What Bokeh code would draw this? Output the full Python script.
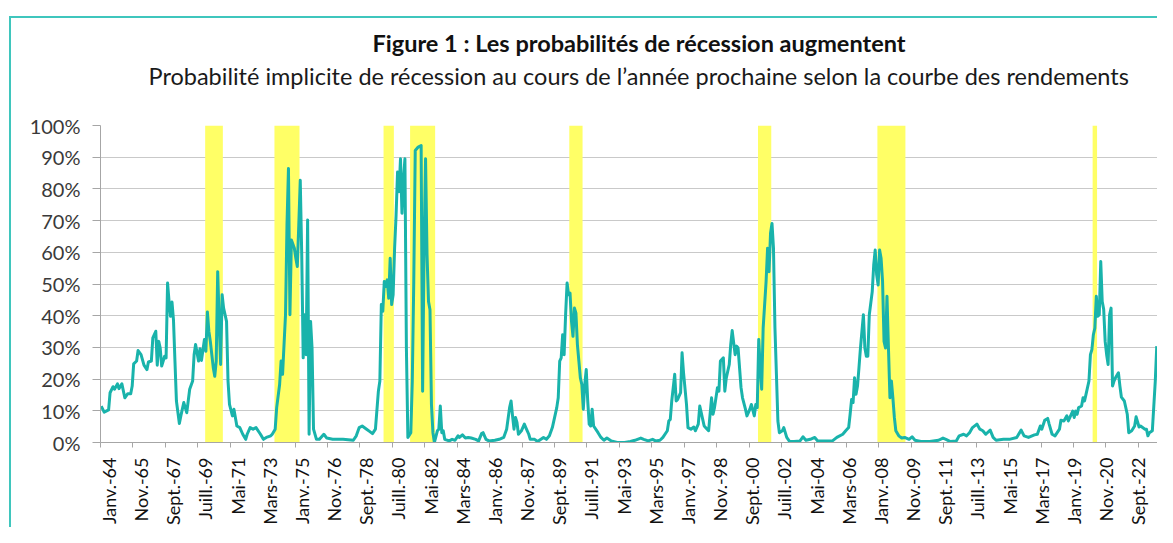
import math
from bokeh.plotting import figure
from bokeh.models import (Range1d, FixedTicker, LinearAxis, Title, InlineStyleSheet,
                          CustomJSTickFormatter, PrintfTickFormatter, ColumnDataSource)
from bokeh.embed import file_html
from bokeh.resources import INLINE

# ---------------- data ----------------
dates = [
    "1964-01", "1964-03", "1964-06", "1964-07", "1964-09", "1964-10", "1964-12",
    "1965-01", "1965-03", "1965-05", "1965-07", "1965-09", "1965-10", "1965-11",
    "1966-01", "1966-02", "1966-04", "1966-06", "1966-08", "1966-09", "1966-11", "1966-12",
    "1967-02", "1967-03", "1967-04", "1967-05", "1967-06", "1967-08", "1967-09", "1967-10",
    "1967-11", "1967-12", "1968-01", "1968-02", "1968-03", "1968-04", "1968-06", "1968-07",
    "1968-09", "1968-11", "1969-01", "1969-03", "1969-04", "1969-05", "1969-07", "1969-08",
    "1969-09", "1969-11", "1969-12", "1970-01", "1970-02", "1970-03", "1970-05", "1970-06",
    "1970-07", "1970-08", "1970-09", "1970-10", "1970-11", "1970-12", "1971-02", "1971-03",
    "1971-04", "1971-06", "1971-07", "1971-09", "1971-11", "1972-01", "1972-03", "1972-04",
    "1972-06", "1972-08", "1972-10", "1973-01", "1973-03", "1973-05", "1973-08", "1973-09",
    "1973-11", "1973-12", "1974-02", "1974-03", "1974-04", "1974-06", "1974-07", "1974-08",
    "1974-09", "1974-10", "1974-12", "1975-01", "1975-02", "1975-03", "1975-04", "1975-05",
    "1975-06", "1975-07", "1975-08", "1975-09", "1975-10", "1975-11", "1975-12", "1976-01",
    "1976-03", "1976-05", "1976-08", "1976-10", "1977-02", "1977-09", "1978-04", "1978-06",
    "1978-08", "1978-10", "1979-01", "1979-03", "1979-05", "1979-07", "1979-09", "1979-10",
    "1979-11", "1979-12", "1980-01", "1980-02", "1980-03", "1980-04", "1980-05", "1980-06",
    "1980-07", "1980-08", "1980-09", "1980-10", "1980-11", "1980-12", "1981-01", "1981-02",
    "1981-03", "1981-04", "1981-05", "1981-07", "1981-08", "1981-09", "1981-10", "1981-12",
    "1982-02", "1982-03", "1982-04", "1982-05", "1982-06", "1982-07", "1982-08", "1982-09",
    "1982-10", "1982-11", "1983-01", "1983-02", "1983-03", "1983-04", "1983-05", "1983-06",
    "1983-09", "1983-11", "1984-01", "1984-03", "1984-04", "1984-06", "1984-08", "1984-10",
    "1984-12", "1985-03", "1985-05", "1985-07", "1985-08", "1985-10", "1985-12", "1986-04",
    "1986-07", "1986-10", "1986-12", "1987-02", "1987-03", "1987-04", "1987-05", "1987-06",
    "1987-07", "1987-08", "1987-10", "1987-12", "1988-01", "1988-03", "1988-04", "1988-07",
    "1988-09", "1989-01", "1989-03", "1989-05", "1989-07", "1989-10", "1989-11", "1989-12",
    "1990-01", "1990-02", "1990-03", "1990-04", "1990-05", "1990-06", "1990-07", "1990-08",
    "1990-09", "1990-10", "1990-11", "1990-12", "1991-01", "1991-02", "1991-03", "1991-04",
    "1991-05", "1991-06", "1991-07", "1991-08", "1991-09", "1991-10", "1991-11", "1992-02",
    "1992-04", "1992-06", "1992-08", "1992-11", "1993-03", "1993-08", "1993-12", "1994-03",
    "1994-07", "1994-09", "1994-12", "1995-03", "1995-05", "1995-08", "1995-10", "1996-01",
    "1996-02", "1996-03", "1996-04", "1996-06", "1996-07", "1996-08", "1996-10", "1996-11",
    "1996-12", "1997-02", "1997-03", "1997-05", "1997-07", "1997-08", "1997-10", "1997-11",
    "1998-01", "1998-02", "1998-04", "1998-05", "1998-07", "1998-08", "1998-09", "1998-11",
    "1998-12", "1999-01", "1999-03", "1999-04", "1999-05", "1999-07", "1999-08", "1999-09",
    "1999-11", "1999-12", "2000-01", "2000-03", "2000-04", "2000-06", "2000-07", "2000-09",
    "2000-10", "2000-12", "2001-01", "2001-02", "2001-03", "2001-04", "2001-05", "2001-06",
    "2001-08", "2001-09", "2001-10", "2001-11", "2001-12", "2002-01", "2002-02", "2002-03",
    "2002-04", "2002-05", "2002-07", "2002-08", "2002-10", "2002-12", "2003-03", "2003-07",
    "2003-09", "2003-11", "2004-02", "2004-05", "2004-07", "2004-12", "2005-05", "2005-08",
    "2005-12", "2006-02", "2006-04", "2006-05", "2006-06", "2006-07", "2006-08", "2006-09",
    "2006-10", "2006-11", "2006-12", "2007-02", "2007-03", "2007-04", "2007-05", "2007-06",
    "2007-08", "2007-09", "2007-10", "2007-11", "2007-12", "2008-01", "2008-02", "2008-03",
    "2008-04", "2008-05", "2008-06", "2008-07", "2008-08", "2008-09", "2008-10", "2008-11",
    "2008-12", "2009-02", "2009-04", "2009-06", "2009-09", "2009-11", "2010-01", "2010-05",
    "2010-11", "2011-05", "2011-08", "2011-10", "2012-01", "2012-05", "2012-07", "2012-10",
    "2012-12", "2013-02", "2013-04", "2013-07", "2013-09", "2013-11", "2014-01", "2014-04",
    "2014-06", "2014-08", "2015-01", "2015-05", "2015-10", "2016-01", "2016-03", "2016-06",
    "2016-10", "2016-12", "2017-02", "2017-03", "2017-05", "2017-07", "2017-08", "2017-10",
    "2017-12", "2018-03", "2018-04", "2018-06", "2018-08", "2018-09", "2018-11", "2018-12",
    "2019-01", "2019-02", "2019-03", "2019-04", "2019-06", "2019-07", "2019-08", "2019-09",
    "2019-11", "2019-12", "2020-01", "2020-02", "2020-03", "2020-04", "2020-05", "2020-06",
    "2020-07", "2020-08", "2020-09", "2020-10", "2020-11", "2020-12", "2021-01", "2021-02",
    "2021-03", "2021-04", "2021-05", "2021-07", "2021-08", "2021-09", "2021-11", "2022-01",
    "2022-02", "2022-04", "2022-06", "2022-07", "2022-09", "2022-10", "2023-01", "2023-02",
    "2023-03", "2023-04", "2023-06", "2023-08", "2023-09",
]

probability = [
    11.5, 9.6, 10.3, 15.7, 17.6, 16.8, 18.5,
    17.0, 18.5, 14.1, 15.4, 15.4, 17.8, 24.8,
    25.7, 29.0, 27.7, 24.4, 23.0, 25.4, 25.7, 33.0,
    35.1, 24.4, 31.9, 29.8, 24.1, 27.2, 26.7, 50.3,
    44.5, 39.8, 44.3, 38.7, 25.7, 13.1, 6.0, 8.4,
    12.6, 9.4, 16.8, 19.4, 27.7, 30.9, 25.7, 29.6,
    25.9, 32.5, 28.8, 41.2, 35.1, 31.9, 23.6, 20.9,
    25.7, 53.9, 38.2, 24.6, 46.6, 42.4, 38.2, 19.4,
    12.0, 8.4, 10.5, 5.2, 4.7, 2.6, 1.0, 2.6,
    4.7, 4.2, 4.7, 2.6, 1.0, 1.6, 2.1, 2.6,
    4.2, 11.0, 18.3, 25.7, 21.5, 40.3, 68.6, 86.4,
    40.3, 63.9, 61.3, 58.1, 55.5, 68.6, 82.7, 59.2,
    26.7, 40.3, 27.7, 70.2, 2.6, 38.2, 29.8, 4.2,
    1.0, 1.0, 2.6, 1.4, 1.0, 1.0, 0.7, 2.1,
    4.7, 5.2, 4.2, 3.5, 2.8, 4.2, 16.2, 19.4,
    43.5, 41.4, 50.8, 49.2, 51.3, 45.5, 58.1, 43.5,
    46.6, 61.3, 71.7, 85.3, 79.1, 89.5, 72.3, 82.7,
    89.5, 29.8, 1.6, 3.1, 19.4, 50.8, 92.1, 93.2,
    93.7, 16.2, 61.3, 89.5, 59.2, 44.5, 41.9, 12.0,
    3.1, 0.0, 3.7, 4.2, 11.5, 3.1, 3.7, 1.0,
    0.5, 1.0, 0.7, 2.1, 1.6, 2.4, 1.4, 1.6,
    1.4, 1.0, 0.5, 2.8, 3.1, 1.0, 0.5, 0.7,
    1.0, 1.6, 4.2, 11.0, 13.1, 8.4, 4.2, 7.9,
    6.3, 2.6, 3.7, 5.8, 4.7, 2.6, 1.0, 1.0,
    0.3, 1.6, 1.0, 2.1, 4.7, 11.0, 14.1, 25.7,
    26.7, 34.0, 27.7, 40.3, 50.3, 46.6, 47.1, 38.2,
    33.5, 42.4, 40.8, 30.9, 25.7, 20.4, 18.3, 10.5,
    18.3, 23.0, 13.1, 5.8, 5.2, 10.5, 5.2, 3.1,
    1.6, 0.7, 1.4, 0.5, 0.0, 0.0, 0.3, 0.7,
    1.4, 1.0, 0.5, 1.0, 0.5, 0.7, 1.6, 3.7,
    6.8, 7.3, 13.1, 21.5, 13.1, 13.6, 15.7, 28.3,
    22.0, 12.0, 4.7, 4.2, 4.9, 3.7, 5.8, 11.5,
    7.3, 5.2, 4.2, 3.7, 14.1, 8.9, 11.0, 17.3,
    16.2, 25.7, 26.7, 16.2, 20.4, 24.6, 30.9, 35.3,
    27.7, 30.4, 29.8, 17.3, 14.1, 10.5, 8.4, 10.5,
    12.0, 8.4, 12.0, 11.0, 32.5, 23.6, 16.8, 36.1,
    50.8, 61.3, 53.9, 66.0, 69.1, 61.3, 36.1, 21.5,
    6.8, 3.1, 3.7, 4.7, 1.6, 0.3, 0.3, 0.5,
    1.8, 0.7, 1.0, 1.6, 0.5, 0.5, 0.5, 1.6,
    2.6, 3.7, 4.7, 8.9, 13.6, 12.6, 20.4, 15.2,
    17.8, 23.6, 29.8, 40.3, 29.8, 27.2, 27.2, 40.3,
    47.6, 56.0, 60.7, 52.9, 49.7, 60.7, 58.1, 50.8,
    31.9, 29.8, 46.1, 29.8, 14.1, 19.4, 14.1, 7.9,
    3.7, 2.1, 1.4, 1.6, 1.0, 1.8, 0.7, 0.3,
    0.3, 0.7, 1.4, 1.0, 0.3, 0.5, 2.1, 2.6,
    2.1, 3.1, 4.7, 5.8, 4.2, 3.7, 2.6, 3.9,
    1.6, 0.7, 1.0, 1.0, 1.6, 3.9, 2.1, 1.6,
    2.4, 2.6, 5.2, 4.2, 7.0, 7.6, 5.8, 2.6,
    2.1, 4.2, 7.0, 6.8, 8.4, 6.8, 8.9, 9.9,
    7.9, 9.9, 8.9, 11.0, 11.5, 14.1, 13.1, 15.2,
    19.4, 27.7, 29.3, 34.0, 36.1, 46.1, 39.8, 40.3,
    57.1, 44.5, 42.0, 31.9, 27.7, 24.6, 40.3, 42.4,
    17.8, 19.4, 20.4, 22.0, 17.8, 14.3, 13.1, 8.9,
    3.1, 3.7, 5.2, 8.1, 4.9, 5.2, 4.2, 4.2,
    2.1, 3.1, 3.7, 19.4, 30.4,
]

recession_start = ["1969-12", "1973-11", "1980-01", "1981-07", "1990-07", "2001-03", "2007-12", "2020-02"]
recession_end = ["1970-11", "1975-03", "1980-07", "1982-11", "1991-03", "2001-11", "2009-06", "2020-04"]

tick_labels = [
    "Janv.-64", "Nov.-65", "Sept.-67", "Juill.-69", "Mai-71", "Mars-73", "Janv.-75",
    "Nov.-76", "Sept.-78", "Juill.-80", "Mai-82", "Mars-84", "Janv.-86", "Nov.-87",
    "Sept.-89", "Juill.-91", "Mai-93", "Mars-95", "Janv.-97", "Nov.-98", "Sept.-00",
    "Juill.-02", "Mai-04", "Mars-06", "Janv.-08", "Nov.-09", "Sept.-11", "Juill.-13",
    "Mai-15", "Mars-17", "Janv.-19", "Nov.-20", "Sept.-22",
]
y_ticks = [0, 10, 20, 30, 40, 50, 60, 70, 80, 90, 100]

title_text = "Figure 1 : Les probabilités de récession augmentent"
subtitle_text = "Probabilité implicite de récession au cours de l\u2019année prochaine selon la courbe des rendements"

# ---------------- helpers ----------------
def month_index(s):
    y, m = s.split("-")
    return (int(y) - 1964) * 12 + int(m) - 1

n_months = month_index(dates[-1]) + 1
x_vals = [month_index(d) + 0.5 for d in dates]
line_src = ColumnDataSource(dict(x=x_vals, y=probability))
rec_src = ColumnDataSource(dict(
    left=[month_index(s) for s in recession_start],
    right=[month_index(e) + 1 for e in recession_end],
    bottom=[0] * len(recession_start),
    top=[100] * len(recession_start),
))

FONT = "Lato"
TEAL = "#19b3ab"

border_css = InlineStyleSheet(css="""
:host::after {
  content: "";
  position: absolute;
  left: 9px; top: 16px; right: 0; bottom: 0;
  border-left: 2px solid #3fc6bd;
  border-top: 2px solid #3fc6bd;
  pointer-events: none;
  z-index: 100;
}
""")

W, H = 1157, 527
FRAME_L, FRAME_T, FRAME_B = 100, 125, 442

p = figure(width=W, height=H, output_backend="svg", toolbar_location=None,
           x_range=Range1d(0, n_months), y_range=Range1d(0, 100),
           x_axis_location=None, title=None,
           min_border_left=FRAME_L, min_border_right=0,
           min_border_top=FRAME_T, min_border_bottom=H - FRAME_B)
p.stylesheets = [border_css]
p.outline_line_color = None
p.background_fill_color = "white"
p.border_fill_color = "white"

# recession shading
p.quad(left="left", right="right", bottom="bottom", top="top", source=rec_src,
       fill_color="#ffff66", line_color=None)
# series
p.line("x", "y", source=line_src, line_color=TEAL, line_width=3, line_join="round")

# y axis
yax = p.yaxis[0]
yax.ticker = FixedTicker(ticks=y_ticks)
yax.formatter = PrintfTickFormatter(format="%d%%")
yax.major_tick_out = 8
yax.major_tick_in = 0
yax.minor_tick_line_color = None
yax.axis_line_color = "#a6a6a6"
yax.major_tick_line_color = "#a6a6a6"
yax.major_label_text_font = FONT
yax.major_label_text_font_size = "20px"
yax.major_label_text_color = "#3a3a3a"
yax.major_label_standoff = 12

p.ygrid.ticker = FixedTicker(ticks=y_ticks)
p.ygrid.grid_line_color = "#c9c9c9"
p.ygrid.grid_line_width = 1
p.xgrid.visible = False

# x axis: tick marks
tick_pos = [22 * k for k in range(len(tick_labels))]
xax_ticks = LinearAxis(ticker=FixedTicker(ticks=tick_pos),
                       formatter=CustomJSTickFormatter(code="return '';"),
                       major_tick_out=5, major_tick_in=0, minor_tick_line_color=None,
                       axis_line_color="#a6a6a6", major_tick_line_color="#a6a6a6",
                       major_label_text_font_size="1px", major_label_standoff=0)
p.add_layout(xax_ticks, "below")

# x axis: labels
nlab = len(tick_labels)
label_pos = [22 * k + 5.7 * (1 - k / (nlab - 1)) for k in range(nlab)]
xax_labels = LinearAxis(ticker=FixedTicker(ticks=label_pos),
                        formatter=CustomJSTickFormatter(args=dict(labels=tick_labels),
                                                        code="return labels[Math.round(tick / 22)] || '';"),
                        major_tick_out=0, major_tick_in=0, minor_tick_line_color=None,
                        axis_line_color=None, major_tick_line_color=None,
                        major_label_orientation=math.pi / 2,
                        major_label_text_font=FONT, major_label_text_font_size="18px",
                        major_label_text_color="#111111", major_label_standoff=10)
p.add_layout(xax_labels, "below")

# titles (first added is nearest the plot)
p.add_layout(Title(text=subtitle_text, align="left", offset=48, text_font=FONT,
                   text_font_size="23.5px", text_font_style="normal",
                   text_color="#1a1a1a", standoff=72), "above")
p.add_layout(Title(text=title_text, align="left", offset=272, text_font=FONT,
                   text_font_size="23.5px", text_font_style="bold",
                   text_color="#111111", standoff=-66), "above")

open("out.html", "w").write(file_html(p, INLINE))
